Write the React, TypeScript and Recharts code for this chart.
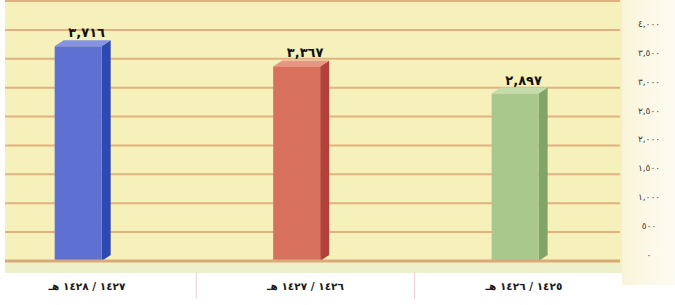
import { BarChart, Bar, XAxis, YAxis, CartesianGrid, LabelList } from 'recharts';

// hijri years, right-to-left labels
const categories = ['١٤٢٧ / ١٤٢٨ هـ', '١٤٢٦ / ١٤٢٧ هـ', '١٤٢٥ / ١٤٢٦ هـ'];
const values = [3716, 3367, 2897];
const yTicks = [0, 500, 1000, 1500, 2000, 2500, 3000, 3500, 4000, 4500];
const xTicks = [0, 0.5, 1, 1.5, 2];

const data = categories.map((name, i) => ({ pos: i, name, value: values[i] }));

const BAR_COLORS = [
  { front: '#5e70d2', side: '#2e49b0', top: '#8693e0' },
  { front: '#d7705c', side: '#b3413b', top: '#e89684' },
  { front: '#a9c98c', side: '#80a566', top: '#c5dcad' },
];

const toArabic = (n: number) =>
  n.toLocaleString('en-US').replace(/\d/g, (d) => '٠١٢٣٤٥٦٧٨٩'[+d]);

function Bar3D(props: any) {
  const { x, y, width, height, index } = props;
  const c = BAR_COLORS[index % BAR_COLORS.length];
  const d = 9;
  const dz = 6;
  const fx = x - 4;
  const fw = width - 9;
  const r = fx + fw;
  return (
    <g>
      <polygon
        points={`${r},${y} ${r + d},${y - dz} ${r + d},${y + height - dz} ${r},${y + height}`}
        fill={c.side}
      />
      <polygon points={`${fx},${y} ${fx + d},${y - dz} ${r + d},${y - dz} ${r},${y}`} fill={c.top} />
      <rect x={fx} y={y} width={fw} height={height} fill={c.front} />
    </g>
  );
}

function XTick(props: any) {
  const { x, y, payload } = props;
  const v = payload.value;
  if (!Number.isInteger(v)) {
    return <line x1={x} x2={x} y1={y + 3} y2={y + 30} stroke="#ecccd2" strokeWidth={1} />;
  }
  return (
    <text
      x={x}
      y={y + 21}
      textAnchor="middle"
      direction="rtl"
      style={{ direction: 'rtl', unicodeBidi: 'embed' }}
      fontFamily="DejaVu Sans"
      fontWeight="bold"
      fontSize={10.5}
      fill="#1a1a1a"
    >
      {categories[v]}
    </text>
  );
}

function YTick(props: any) {
  const { x, y, payload } = props;
  if (payload.value > 4000) return null;
  return (
    <text x={x + 21} y={y - 3} textAnchor="middle" fontFamily="DejaVu Sans" fontSize={9} fill="#3a3a3a">
      {toArabic(payload.value)}
    </text>
  );
}

export default function App() {
  return (
    <div style={{ position: 'absolute', left: 0, top: 0, width: 675, height: 305, background: '#ffffff', overflow: 'hidden' }}>
      {/* back wall, floor and side wall */}
      <div style={{ position: 'absolute', left: 5, top: 0, width: 617, height: 262, background: '#f6f0ba' }} />
      <div style={{ position: 'absolute', left: 5, top: 262, width: 617, height: 11, background: '#eef0c9' }} />
      <div
        style={{
          position: 'absolute',
          left: 622,
          top: 0,
          width: 53,
          height: 285,
          background: 'linear-gradient(90deg, #f9f4d8 0%, #fcf9ea 60%, #fdfbf1 100%)',
        }}
      />
      <div style={{ position: 'absolute', left: 0, top: 0 }}>
        <BarChart width={675} height={305} data={data} margin={{ top: 1, right: 5, left: 5, bottom: 4 }}>
          <CartesianGrid vertical={false} stroke="#dfb27f" strokeWidth={2} />
          <XAxis
            dataKey="pos"
            type="number"
            domain={[-0.375, 2.44]}
            allowDataOverflow
            ticks={xTicks}
            interval={0}
            tick={<XTick />}
            tickLine={false}
            axisLine={{ stroke: '#d9a97a', strokeWidth: 3 }}
            height={40}
          />
          <YAxis
            orientation="right"
            domain={[0, 4500]}
            ticks={yTicks}
            interval={0}
            tick={<YTick />}
            tickLine={false}
            axisLine={false}
            width={50}
          />
          <Bar dataKey="value" barSize={56} shape={<Bar3D />} isAnimationActive={false}>
            <LabelList
              dataKey="value"
              position="top"
              offset={9}
              formatter={(v: any) => toArabic(Number(v))}
              style={{ fontFamily: 'DejaVu Sans', fontWeight: 'bold', fontSize: 13, fill: '#111' }}
            />
          </Bar>
        </BarChart>
      </div>
    </div>
  );
}
